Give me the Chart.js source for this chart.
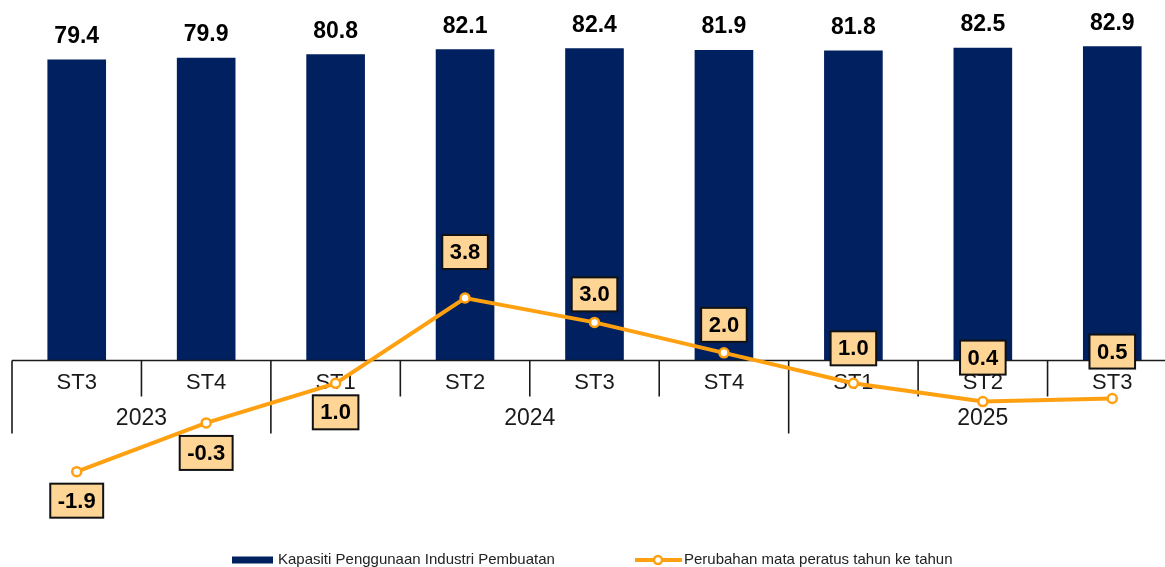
<!DOCTYPE html>
<html>
<head>
<meta charset="utf-8">
<script src="https://cdn.jsdelivr.net/npm/chart.js@4/dist/chart.umd.min.js"></script>
<style>
  html, body { margin: 0; padding: 0; background: #fff; overflow: hidden; }
  #wrap { position: absolute; left: 0; top: 0; width: 1180px; height: 567px; }
</style>
</head>
<body>
<div id="wrap"><canvas id="chart"></canvas></div>
<script>
// --- dados ---
const SUKU = ['ST3', 'ST4', 'ST1', 'ST2', 'ST3', 'ST4', 'ST1', 'ST2', 'ST3'];
const TAHUN = ['2023', '2024', '2025'];
const TAHUN_SPAN = [2, 4, 3]; // quantos trimestres em cada ano
const KAPASITI = [79.4, 79.9, 80.8, 82.1, 82.4, 81.9, 81.8, 82.5, 82.9];
const PERUBAHAN = [-1.9, -0.3, 1.0, 3.8, 3.0, 2.0, 1.0, 0.4, 0.5];

const NOME_BAR = 'Kapasiti Penggunaan Industri Pembuatan';
const NOME_LINHA = 'Perubahan mata peratus tahun ke tahun';

// deslocamento vertical das caixas de rótulo da linha (px, em relação ao ponto)
const LABEL_DY = [29, 30, 29, -46, -28, -28, -35, -44, -47];

const NAVY = '#00205F';
const ORANGE = '#FFA010';
const BOX_FILL = '#FFD596';
const FONT = '"Liberation Sans", Arial, sans-serif';

// --- plugin: tabela de categorias (trimestre / ano) ---
const tabelaPlugin = {
    id: 'tabela',
    afterDatasetDraw(chart, args) {
        if (args.index !== 0) return;
        const ctx = chart.ctx;
        const x = chart.scales.x;
        const area = chart.chartArea;
        const y0 = chart.scales.yBar.getPixelForValue(0);
        const step = (area.right - area.left) / SUKU.length;

        ctx.save();
        ctx.strokeStyle = '#1a1a1a';
        ctx.lineWidth = 1.6;
        ctx.beginPath();
        ctx.moveTo(area.left, y0);
        ctx.lineTo(area.right, y0);
        ctx.stroke();

        // limites dos anos
        const limites = [0];
        TAHUN_SPAN.forEach(n => limites.push(limites[limites.length - 1] + n));

        for (let i = 0; i <= SUKU.length; i++) {
            const px = area.left + i * step;
            const longa = limites.includes(i);
            ctx.beginPath();
            ctx.moveTo(px, y0);
            ctx.lineTo(px, longa ? y0 + 73 : y0 + 36);
            ctx.stroke();
        }

        ctx.fillStyle = '#1a1a1a';
        ctx.textAlign = 'center';
        ctx.textBaseline = 'middle';
        ctx.font = '22px ' + FONT;
        SUKU.forEach((s, i) => {
            ctx.fillText(s, x.getPixelForValue(i), y0 + 22);
        });

        ctx.font = '23px ' + FONT;
        TAHUN.forEach((t, k) => {
            const a = area.left + limites[k] * step;
            const b = area.left + limites[k + 1] * step;
            ctx.fillText(t, (a + b) / 2, y0 + 58);
        });
        ctx.restore();
    }
};

// --- plugin: rótulos de valores ---
const rotulosPlugin = {
    id: 'rotulos',
    afterDatasetsDraw(chart) {
        const ctx = chart.ctx;
        ctx.save();
        ctx.textAlign = 'center';
        ctx.textBaseline = 'middle';

        // barras
        ctx.font = 'bold 23px ' + FONT;
        ctx.fillStyle = '#000';
        chart.getDatasetMeta(0).data.forEach((el, i) => {
            ctx.fillText(KAPASITI[i].toFixed(1), el.x, el.y - 23);
        });

        // linha (caixas)
        ctx.font = 'bold 22px ' + FONT;
        chart.getDatasetMeta(1).data.forEach((el, i) => {
            const txt = PERUBAHAN[i].toFixed(1);
            const w = ctx.measureText(txt).width + 15;
            const h = 34;
            const cy = el.y + LABEL_DY[i];
            ctx.fillStyle = BOX_FILL;
            ctx.fillRect(el.x - w / 2, cy - h / 2, w, h);
            ctx.strokeStyle = '#111';
            ctx.lineWidth = 2;
            ctx.strokeRect(el.x - w / 2, cy - h / 2, w, h);
            ctx.fillStyle = '#000';
            ctx.fillText(txt, el.x, cy + 1);
        });
        ctx.restore();
    },
    afterDraw(chart) {
        // legenda
        const ctx = chart.ctx;
        ctx.save();
        ctx.fillStyle = NAVY;
        ctx.fillRect(232, 556.5, 41, 7);
        ctx.strokeStyle = ORANGE;
        ctx.lineWidth = 4;
        ctx.beginPath();
        ctx.moveTo(635, 560);
        ctx.lineTo(682, 560);
        ctx.stroke();
        ctx.beginPath();
        ctx.arc(658, 560, 4, 0, Math.PI * 2);
        ctx.fillStyle = '#fff';
        ctx.fill();
        ctx.lineWidth = 2.5;
        ctx.stroke();

        ctx.fillStyle = '#222';
        ctx.font = '15px ' + FONT;
        ctx.textAlign = 'left';
        ctx.textBaseline = 'middle';
        ctx.fillText(NOME_BAR, 278, 559.5);
        ctx.fillText(NOME_LINHA, 684, 559.5);
        ctx.restore();
    }
};

new Chart(document.getElementById('chart').getContext('2d'), {
    type: 'bar',
    data: {
        labels: SUKU,
        datasets: [{
            type: 'bar',
            label: NOME_BAR,
            data: KAPASITI,
            backgroundColor: NAVY,
            yAxisID: 'yBar',
            barPercentage: 0.453,
            categoryPercentage: 1,
            order: 1
        },
        {
            type: 'line',
            label: NOME_LINHA,
            data: PERUBAHAN,
            borderColor: ORANGE,
            borderWidth: 4,
            tension: 0,
            pointRadius: 4.5,
            pointBorderWidth: 2.5,
            pointBackgroundColor: '#fff',
            pointBorderColor: ORANGE,
            yAxisID: 'yLine',
            order: 0
        }]
    },
    options: {
        responsive: true,
        maintainAspectRatio: false,
        animation: false,
        layout: { autoPadding: false, padding: { left: 12, right: 3, top: 0, bottom: 37 } },
        scales: {
            x: { display: false, offset: true, grid: { display: false } },
            yBar: { display: false, min: -44.72, max: 95.12 },
            yLine: { display: false, min: -3.814, max: 13.58 }
        },
        plugins: {
            legend: { display: false },
            tooltip: { enabled: false }
        }
    },
    plugins: [tabelaPlugin, rotulosPlugin]
});
</script>
</body>
</html>
